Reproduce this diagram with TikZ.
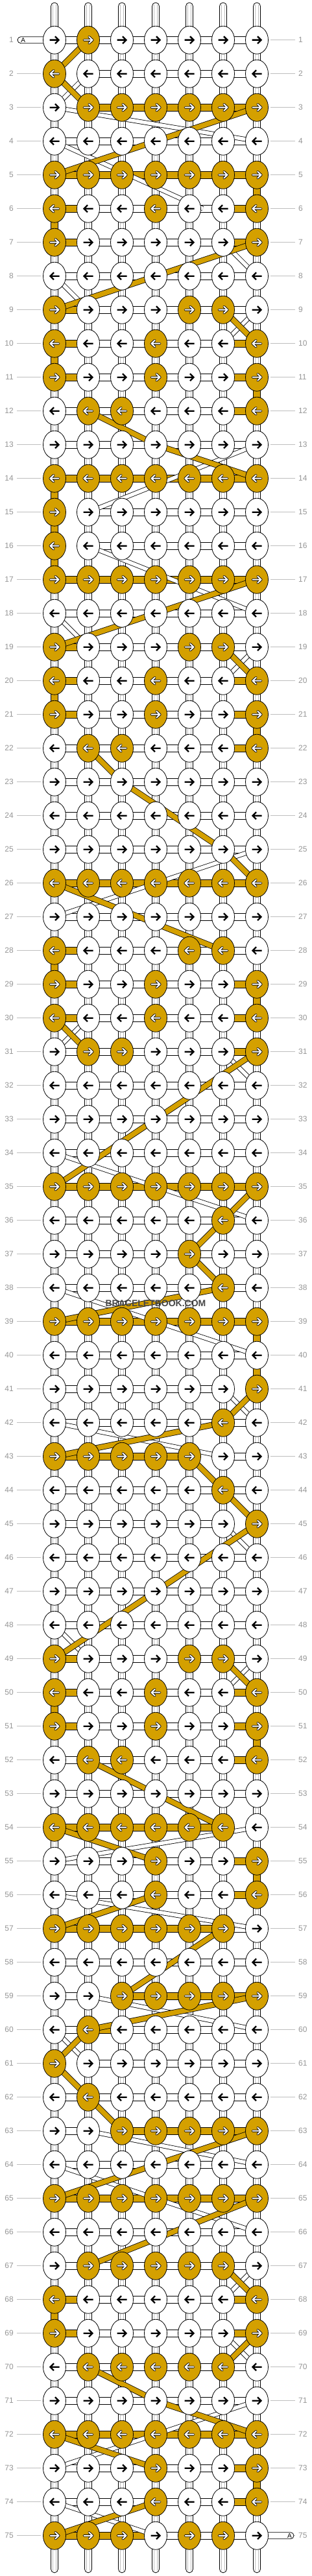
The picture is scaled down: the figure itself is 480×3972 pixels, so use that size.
\documentclass[tikz,border=0pt]{standalone}
\usepackage{fontspec}
\setmainfont{Liberation Sans}
\usetikzlibrary{shapes.geometric}
\definecolor{gold}{RGB}{212,160,0}
\definecolor{lblgray}{RGB}{150,150,150}
\definecolor{lingray}{RGB}{190,190,190}
\definecolor{wmgray}{RGB}{70,70,70}
\tikzset{
  outl/.style={draw=black, line width=0.8pt},
  knot/.style={ellipse, outl, minimum width=35pt, minimum height=43pt, inner sep=0pt},
  conw/.style={outl, fill=white},
  cong/.style={outl, fill=gold},
  innerl/.style={draw=lingray, line width=0.6pt},
  numlabel/.style={text=lblgray, font=\fontsize{12}{12}\selectfont, inner sep=0pt},
  rowline/.style={draw=lingray, line width=0.8pt},
  gband/.style={draw=gold, line width=7.6pt, line join=round, preaction={draw=black, line width=9.2pt, line join=round}},
  wband/.style={draw=white, line width=5.6pt, line join=round, preaction={draw=black, line width=7.2pt, line join=round}},
  arrb/.style={draw=black, line width=2.4pt},
  arro/.style={draw=black, line width=3.8pt, line cap=round, line join=round},
  arri/.style={draw=white, line width=2pt, line cap=round, line join=round},
  stub/.style={outl, fill=white, rounded corners=5.5pt},
}
\def\rowdata{%
1/{0,1,0,0,0,0,0}/{0,0,0,0,0,0},
2/{1,0,0,0,0,0,0}/{2,0,0,0,0,0},
3/{0,1,1,1,1,1,1}/{2,1,1,1,1,1},
4/{0,0,0,0,0,0,0}/{0,0,0,0,0,0},
5/{1,1,1,1,1,1,1}/{1,1,1,1,1,1},
6/{1,0,0,1,0,0,1}/{1,0,0,0,0,1},
7/{1,0,0,0,0,0,1}/{1,0,0,0,0,1},
8/{0,0,0,0,0,0,0}/{0,0,0,0,0,0},
9/{1,0,0,0,1,1,0}/{1,0,0,0,0,0},
10/{1,0,0,1,0,0,1}/{1,0,0,0,0,1},
11/{1,0,0,1,0,0,1}/{1,0,0,0,0,1},
12/{0,1,1,0,0,0,1}/{0,0,0,0,0,1},
13/{0,0,0,0,0,0,0}/{0,0,0,0,0,0},
14/{1,1,1,1,1,1,1}/{1,1,1,1,1,1},
15/{1,0,0,0,0,0,0}/{2,0,0,0,0,0},
16/{1,0,0,0,0,0,0}/{2,0,0,0,0,0},
17/{1,1,1,1,1,1,1}/{1,1,1,1,1,1},
18/{0,0,0,0,0,0,0}/{0,0,0,0,0,0},
19/{1,0,0,0,1,1,0}/{1,0,0,0,0,0},
20/{1,0,0,1,0,0,1}/{1,0,0,0,0,1},
21/{1,0,0,1,0,0,1}/{1,0,0,0,0,1},
22/{0,1,1,0,0,0,1}/{0,0,0,0,0,1},
23/{0,0,0,0,0,0,0}/{0,0,0,0,0,0},
24/{0,0,0,0,0,0,0}/{0,0,0,0,0,0},
25/{0,0,0,0,0,0,0}/{0,0,0,0,0,0},
26/{1,1,1,1,1,1,1}/{1,1,1,1,1,1},
27/{0,0,0,0,0,0,0}/{0,0,0,0,0,0},
28/{1,0,0,0,1,1,0}/{1,0,0,0,0,0},
29/{1,0,0,1,0,0,1}/{1,0,0,0,0,1},
30/{1,0,0,1,0,0,1}/{1,0,0,0,0,1},
31/{0,1,1,0,0,0,1}/{0,0,0,0,0,1},
32/{0,0,0,0,0,0,0}/{0,0,0,0,0,0},
33/{0,0,0,0,0,0,0}/{0,0,0,0,0,0},
34/{0,0,0,0,0,0,0}/{0,0,0,0,0,0},
35/{1,1,1,1,1,1,1}/{1,1,1,1,1,1},
36/{0,0,0,0,0,1,0}/{0,0,0,0,0,0},
37/{0,0,0,0,1,0,0}/{0,0,0,0,0,0},
38/{0,0,0,0,0,1,0}/{0,0,0,0,0,0},
39/{1,1,1,1,1,1,1}/{1,1,1,1,1,1},
40/{0,0,0,0,0,0,0}/{0,0,0,0,0,0},
41/{0,0,0,0,0,0,1}/{0,0,0,0,0,2},
42/{0,0,0,0,0,1,0}/{0,0,0,0,0,0},
43/{1,1,1,1,1,0,0}/{1,1,1,1,2,0},
44/{0,0,0,0,0,1,0}/{0,0,0,0,0,0},
45/{0,0,0,0,0,0,1}/{0,0,0,0,0,2},
46/{0,0,0,0,0,0,0}/{0,0,0,0,0,0},
47/{0,0,0,0,0,0,0}/{0,0,0,0,0,0},
48/{0,0,0,0,0,0,0}/{0,0,0,0,0,0},
49/{1,0,0,0,1,1,0}/{1,0,0,0,0,0},
50/{1,0,0,1,0,0,1}/{1,0,0,0,0,1},
51/{1,0,0,1,0,0,1}/{1,0,0,0,0,1},
52/{0,1,1,0,0,0,1}/{0,0,0,0,0,1},
53/{0,0,0,0,0,0,0}/{0,0,0,0,0,0},
54/{1,1,1,1,1,1,0}/{1,1,1,1,1,2},
55/{0,0,0,1,0,0,1}/{0,0,0,0,0,1},
56/{0,0,0,1,0,0,1}/{0,0,0,0,0,1},
57/{1,1,1,1,1,1,0}/{1,1,1,1,1,0},
58/{0,0,0,0,0,0,0}/{0,0,0,0,0,0},
59/{0,0,1,1,1,1,1}/{0,2,1,1,1,1},
60/{0,1,0,0,0,0,0}/{0,1,0,0,0,0},
61/{1,0,0,0,0,0,0}/{2,0,0,0,0,0},
62/{0,1,0,0,0,0,0}/{0,0,0,0,0,0},
63/{0,0,1,1,1,1,1}/{0,2,1,1,1,1},
64/{0,0,0,0,0,0,0}/{0,0,0,0,0,0},
65/{1,1,1,1,1,1,1}/{1,1,1,1,1,1},
66/{0,0,0,0,0,0,0}/{0,0,0,0,0,0},
67/{0,1,1,1,1,1,0}/{0,0,0,0,0,0},
68/{1,0,0,0,0,0,1}/{1,0,0,0,0,1},
69/{1,0,0,0,0,0,1}/{1,0,0,0,0,1},
70/{0,1,1,1,1,1,0}/{0,0,0,0,0,0},
71/{0,0,0,0,0,0,0}/{0,0,0,0,0,0},
72/{1,1,1,1,1,1,1}/{1,1,1,1,1,1},
73/{0,0,0,1,0,0,1}/{0,0,0,0,0,1},
74/{0,0,0,1,0,0,1}/{0,0,0,0,0,1},
75/{1,1,1,0,1,1,0}/{1,1,1,0,0,0}}
\begin{document}
\begin{tikzpicture}
\useasboundingbox[fill=white] (0pt,0pt) rectangle (480pt,-3972pt);
\begin{scope}[x=52pt,y=-52pt,shift={(32pt,-9.7pt)}]
% knot positions
\foreach \r in {1,...,75}{
  \foreach \c in {1,...,7}{
    \coordinate (k-\r-\c) at (\c,\r);
  }
}
% row lines and numbers
\foreach \r in {1,...,75}{
  \draw[rowline] (-0.115,\r) -- (0.6,\r);
  \draw[rowline] (7.4,\r) -- (8.13,\r);
  \node[numlabel, anchor=east] (ll-\r) at (-0.2115,\r) {\r};
  \node[numlabel, anchor=west] (rl-\r) at (8.23,\r) {\r};
}
% string ends top and bottom
\foreach \c in {1,...,7}{
  \draw[stub] ([xshift=-5.5pt]\c,-0.11) rectangle ([xshift=5.5pt]k-1-\c);
  \draw[innerl] ([xshift=-2.6pt]\c,-0.06) -- ([xshift=-2.6pt]k-1-\c);
  \draw[innerl] ([xshift=2.6pt]\c,-0.06) -- ([xshift=2.6pt]k-1-\c);
  \draw[stub] ([xshift=-5.5pt]k-75-\c) rectangle ([xshift=5.5pt]\c,76.1);
  \draw[innerl] ([xshift=-2.6pt]k-75-\c) -- ([xshift=-2.6pt]\c,76.05);
  \draw[innerl] ([xshift=2.6pt]k-75-\c) -- ([xshift=2.6pt]\c,76.05);
}
% A strings
\draw[stub, rounded corners=5pt] ([yshift=5pt]-0.096,1) rectangle ([yshift=-5pt]k-1-1);
\node[font=\fontsize{10}{10}\selectfont, inner sep=0pt] (aleft) at (0.07,1) {A};
\draw[stub, rounded corners=5pt] ([yshift=5pt]k-75-7) rectangle ([yshift=-5pt]8.096,75);
\node[font=\fontsize{10}{10}\selectfont, inner sep=0pt] (aright) at (7.97,75) {A};
% vertical connectors
\foreach \r [evaluate=\r as \rn using int(\r+1)] in {1,...,74}{
  \foreach \c in {1,...,7}{
    \draw[conw] ([xshift=-5.5pt]k-\r-\c) rectangle ([xshift=5.5pt]k-\rn-\c);
    \draw[innerl] ([xshift=-2.6pt]k-\r-\c) -- ([xshift=-2.6pt]k-\rn-\c);
    \draw[innerl] ([xshift=2.6pt]k-\r-\c) -- ([xshift=2.6pt]k-\rn-\c);
  }
}
\foreach \c/\r [evaluate=\r as \rn using int(\r+1)] in {7/5,1/6,1/10,7/11,1/14,1/15,1/16,1/20,7/21,1/28,7/29,7/39,7/40,1/50,7/51,7/55,1/68,7/73}{
  \draw[cong] ([xshift=-5.5pt]k-\r-\c) rectangle ([xshift=5.5pt]k-\rn-\c);
}
% horizontal connectors
\foreach \r/\ks/\hs in \rowdata {
  \foreach \h [count=\c, evaluate=\c as \cn using int(\c+1)] in \hs {
    \ifnum\h=0
      \draw[conw] ([xshift=10pt,yshift=5.5pt]k-\r-\c) rectangle ([xshift=-10pt,yshift=-5.5pt]k-\r-\cn);
    \fi
    \ifnum\h=1
      \draw[cong] ([xshift=10pt,yshift=5.5pt]k-\r-\c) rectangle ([xshift=-10pt,yshift=-5.5pt]k-\r-\cn);
    \fi
  }
}
% white strings passing behind
\draw[wband] (k-2-2) -- (k-3-1);
\draw[wband] (k-3-1) -- (k-4-7);
\draw[wband] (k-4-1) -- (5.4,6);
\draw[wband] (k-7-6) -- (k-8-7);
\draw[wband] (k-8-1) -- (k-9-2);
\draw[wband] (k-9-7) -- (k-10-6);
\draw[wband] (k-13-7) -- (k-15-2);
\draw[wband] (k-16-2) -- (k-18-7);
\draw[wband] (k-18-1) -- (k-19-2);
\draw[wband] (k-19-7) -- (k-20-6);
\draw[wband] (k-25-7) -- (k-27-1);
\draw[wband] (k-30-2) -- (k-31-1);
\draw[wband] (k-31-6) -- (k-32-7);
\draw[wband] (k-34-1) -- (k-36-7);
\draw[wband] (k-38-1) -- (k-40-7);
\draw[wband] (k-41-6) -- (k-42-7);
\draw[wband] (k-42-1) -- (k-43-6);
\draw[wband] (k-45-6) -- (k-46-7);
\draw[wband] (k-48-1) -- (k-49-2);
\draw[wband] (k-49-7) -- (k-50-6);
\draw[wband] (k-54-7) -- (k-55-1);
\draw[wband] (k-56-1) -- (k-57-7);
\draw[wband] (k-59-2) -- (k-60-7);
\draw[wband] (k-60-1) -- (k-61-2);
\draw[wband] (k-63-2) -- (k-64-7);
\draw[wband] (k-64-1) -- (k-66-7);
\draw[wband] (k-67-7) -- (k-68-6);
\draw[wband] (k-69-6) -- (k-70-7);
\draw[wband] (k-71-7) -- (k-73-1);
\draw[wband] (k-74-1) -- (k-75-4);
% gold strings passing behind
\draw[gband] (k-1-2) -- (k-2-1) -- (k-3-2);
\draw[gband] (k-3-7) -- (k-5-1);
\draw[gband] (k-7-7) -- (k-9-1);
\draw[gband] (k-9-6) -- (k-10-7);
\draw[gband] (k-12-2) -- (k-13-4) -- (k-14-7);
\draw[gband] (k-17-7) -- (k-19-1);
\draw[gband] (k-19-6) -- (k-20-7);
\draw[gband] (k-22-2) -- (k-23-3) -- (4.5,24) -- (k-25-6) -- (k-26-7);
\draw[gband] (k-26-1) -- (k-28-6);
\draw[gband] (k-30-1) -- (k-31-2);
\draw[gband] (k-31-7) -- (k-35-1);
\draw[gband] (k-35-7) -- (k-36-6) -- (k-37-5) -- (k-38-6) -- (k-39-1);
\draw[gband] (k-41-7) -- (k-42-6) -- (k-43-1);
\draw[gband] (k-43-5) -- (k-44-6) -- (k-45-7) -- (k-49-1);
\draw[gband] (k-49-6) -- (k-50-7);
\draw[gband] (k-52-2) -- (k-53-4) -- (k-54-6);
\draw[gband] (k-54-1) -- (k-55-4);
\draw[gband] (k-56-4) -- (k-57-1);
\draw[gband] (k-57-6) -- (k-59-3);
\draw[gband] (k-59-7) -- (k-60-2) -- (k-61-1) -- (k-62-2) -- (k-63-3);
\draw[gband] (k-63-7) -- (k-65-1);
\draw[gband] (k-65-7) -- (k-67-2);
\draw[gband] (k-67-6) -- (k-68-7);
\draw[gband] (k-69-7) -- (k-70-6);
\draw[gband] (k-70-2) -- (k-71-4) -- (k-72-7);
\draw[gband] (k-72-1) -- (k-73-4);
\draw[gband] (k-74-4) -- (k-75-1);
% knots with arrows
\foreach \r/\ks/\hs in \rowdata {
  \ifodd\r \def\dir{1}\else\def\dir{-1}\fi
  \foreach \k [count=\c] in \ks {
    \ifnum\k=1 \def\kf{gold}\else\def\kf{white}\fi
    \node[knot, fill=\kf] (n-\r-\c) at (k-\r-\c) {};
    \begin{scope}[shift={(\c,\r)}, xscale=\dir]
      \ifnum\k=1
        \draw[arro] (-6.5pt,0pt) -- (6pt,0pt) (1.2pt,5pt) -- (6.6pt,0pt) -- (1.2pt,-5pt);
        \draw[arri] (-6.5pt,0pt) -- (6pt,0pt) (1.2pt,5pt) -- (6.6pt,0pt) -- (1.2pt,-5pt);
      \else
        \draw[arrb] (-7.5pt,0pt) -- (6pt,0pt) (1pt,5.5pt) -- (6.5pt,0pt) -- (1pt,-5.5pt);
      \fi
    \end{scope}
  }
}
% watermark
\node[font=\bfseries\fontsize{14}{14}\selectfont, text=wmgray, inner sep=0pt] (wm) at (4,38.46) {BRACELETBOOK.COM};
\end{scope}
\end{tikzpicture}
\end{document}
